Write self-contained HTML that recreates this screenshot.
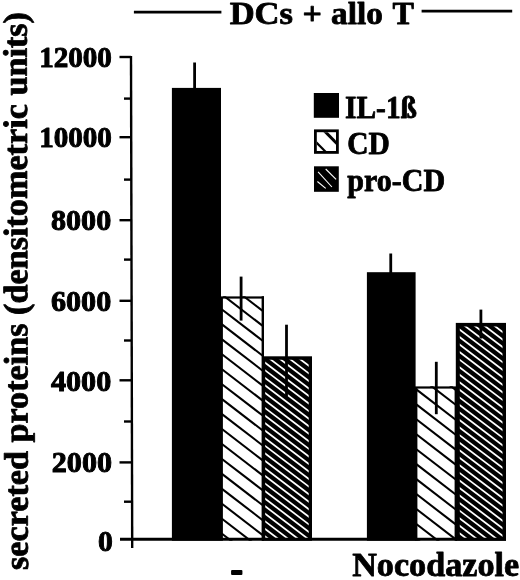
<!DOCTYPE html>
<html><head><meta charset="utf-8"><title>DCs + allo T</title>
<style>
html,body{margin:0;padding:0;background:#fff;}
svg{display:block}
text{font-family:"Liberation Serif",serif;font-weight:bold;fill:#000;stroke:#000;stroke-width:0.8px;stroke-linejoin:round}
</style></head><body>
<svg width="520" height="580" viewBox="0 0 520 580">
<rect width="520" height="580" fill="#fff"/>

<g stroke="#000" stroke-width="2.7">
<line x1="133.9" y1="12.1" x2="221.4" y2="12.1"/>
<line x1="421.6" y1="11.2" x2="512.2" y2="11.2"/>
</g>
<text y="23.8" font-size="32" xml:space="preserve"><tspan x="229.7" textLength="63.3" lengthAdjust="spacingAndGlyphs">DCs</tspan> <tspan x="302.5" textLength="19.4" lengthAdjust="spacingAndGlyphs">+</tspan> <tspan x="331" textLength="51.8" lengthAdjust="spacingAndGlyphs">allo</tspan> <tspan x="392.4" textLength="21.4" lengthAdjust="spacingAndGlyphs">T</tspan></text>
<g stroke="#000" stroke-width="2.4">
<line x1="131" y1="56" x2="132.2" y2="548"/>
<line x1="119.5" y1="57" x2="131" y2="57"/>
<line x1="119.5" y1="137.2" x2="131" y2="137.2"/>
<line x1="119.5" y1="220.2" x2="131" y2="220.2"/>
<line x1="119.5" y1="300.8" x2="131" y2="300.8"/>
<line x1="119.5" y1="380.3" x2="131" y2="380.3"/>
<line x1="119.5" y1="462.4" x2="131" y2="462.4"/>
<line x1="124" y1="98.6" x2="131" y2="98.6"/>
<line x1="124" y1="179.6" x2="131" y2="179.6"/>
<line x1="124" y1="259.6" x2="131" y2="259.6"/>
<line x1="124" y1="340.5" x2="131" y2="340.5"/>
<line x1="124" y1="421.5" x2="131" y2="421.5"/>
<line x1="124" y1="501.7" x2="131" y2="501.7"/>
</g>
<g style="stroke-width:1px">
<text x="39.2" y="66.6" font-size="30" style="stroke-width:1px" textLength="72.7" lengthAdjust="spacingAndGlyphs">12000</text>
<text x="39.2" y="146.8" font-size="30" style="stroke-width:1px" textLength="72.7" lengthAdjust="spacingAndGlyphs">10000</text>
<text x="51.0" y="229.8" font-size="30" style="stroke-width:1px" textLength="60.2" lengthAdjust="spacingAndGlyphs">8000</text>
<text x="51.0" y="310.9" font-size="30" style="stroke-width:1px" textLength="60.2" lengthAdjust="spacingAndGlyphs">6000</text>
<text x="51.0" y="391.1" font-size="30" style="stroke-width:1px" textLength="60.2" lengthAdjust="spacingAndGlyphs">4000</text>
<text x="51.8" y="471.8" font-size="30" style="stroke-width:1px" textLength="60.2" lengthAdjust="spacingAndGlyphs">2000</text>
<text x="97.9" y="550.6" font-size="30" style="stroke-width:1px" textLength="14.8" lengthAdjust="spacingAndGlyphs">0</text>
</g>
<rect x="171.9" y="87.9" width="49.099999999999994" height="452.80000000000007" fill="#000"/>
<clipPath id="h1"><rect x="220.5" y="296.2" width="43.5" height="244.50000000000006"/></clipPath>
<rect x="221.5" y="297.2" width="41.5" height="243.50000000000006" fill="#fff"/>
<g clip-path="url(#h1)" stroke="#000" stroke-width="2.06">
<line x1="215.5" y1="244.66" x2="269.0" y2="285.86"/>
<line x1="215.5" y1="259.61" x2="269.0" y2="300.81"/>
<line x1="215.5" y1="274.56" x2="269.0" y2="315.76"/>
<line x1="215.5" y1="289.51" x2="269.0" y2="330.71"/>
<line x1="215.5" y1="304.46" x2="269.0" y2="345.66"/>
<line x1="215.5" y1="319.41" x2="269.0" y2="360.61"/>
<line x1="215.5" y1="334.36" x2="269.0" y2="375.56"/>
<line x1="215.5" y1="349.31" x2="269.0" y2="390.51"/>
<line x1="215.5" y1="364.26" x2="269.0" y2="405.46"/>
<line x1="215.5" y1="379.21" x2="269.0" y2="420.41"/>
<line x1="215.5" y1="394.16" x2="269.0" y2="435.36"/>
<line x1="215.5" y1="409.11" x2="269.0" y2="450.31"/>
<line x1="215.5" y1="424.06" x2="269.0" y2="465.26"/>
<line x1="215.5" y1="439.01" x2="269.0" y2="480.21"/>
<line x1="215.5" y1="453.96" x2="269.0" y2="495.16"/>
<line x1="215.5" y1="468.91" x2="269.0" y2="510.11"/>
<line x1="215.5" y1="483.86" x2="269.0" y2="525.06"/>
<line x1="215.5" y1="498.81" x2="269.0" y2="540.01"/>
<line x1="215.5" y1="513.76" x2="269.0" y2="554.96"/>
<line x1="215.5" y1="528.71" x2="269.0" y2="569.91"/>
<line x1="215.5" y1="543.66" x2="269.0" y2="584.86"/>
<line x1="215.5" y1="558.61" x2="269.0" y2="599.81"/>
<line x1="215.5" y1="573.56" x2="269.0" y2="614.76"/>
<line x1="215.5" y1="588.51" x2="269.0" y2="629.71"/>
</g>
<rect x="221.7" y="297.4" width="41.1" height="247.50000000000006" fill="none" stroke="#000" stroke-width="2.4" clip-path="url(#h1)"/>
<clipPath id="h2"><rect x="265.2" y="359.7" width="43.5" height="180.00000000000003"/></clipPath>
<rect x="262" y="356.3" width="50" height="184.40000000000003" fill="#000"/>
<g clip-path="url(#h2)" stroke="#fff" stroke-width="1.75">
<line x1="257.0" y1="288.67" x2="317.0" y2="334.27"/>
<line x1="257.0" y1="296.22" x2="317.0" y2="341.82"/>
<line x1="257.0" y1="303.77" x2="317.0" y2="349.37"/>
<line x1="257.0" y1="311.32" x2="317.0" y2="356.92"/>
<line x1="257.0" y1="318.87" x2="317.0" y2="364.47"/>
<line x1="257.0" y1="326.42" x2="317.0" y2="372.02"/>
<line x1="257.0" y1="333.97" x2="317.0" y2="379.57"/>
<line x1="257.0" y1="341.52" x2="317.0" y2="387.12"/>
<line x1="257.0" y1="349.07" x2="317.0" y2="394.67"/>
<line x1="257.0" y1="356.62" x2="317.0" y2="402.22"/>
<line x1="257.0" y1="364.17" x2="317.0" y2="409.77"/>
<line x1="257.0" y1="371.72" x2="317.0" y2="417.32"/>
<line x1="257.0" y1="379.27" x2="317.0" y2="424.87"/>
<line x1="257.0" y1="386.82" x2="317.0" y2="432.42"/>
<line x1="257.0" y1="394.37" x2="317.0" y2="439.97"/>
<line x1="257.0" y1="401.92" x2="317.0" y2="447.52"/>
<line x1="257.0" y1="409.47" x2="317.0" y2="455.07"/>
<line x1="257.0" y1="417.02" x2="317.0" y2="462.62"/>
<line x1="257.0" y1="424.57" x2="317.0" y2="470.17"/>
<line x1="257.0" y1="432.12" x2="317.0" y2="477.72"/>
<line x1="257.0" y1="439.67" x2="317.0" y2="485.27"/>
<line x1="257.0" y1="447.22" x2="317.0" y2="492.82"/>
<line x1="257.0" y1="454.77" x2="317.0" y2="500.37"/>
<line x1="257.0" y1="462.32" x2="317.0" y2="507.92"/>
<line x1="257.0" y1="469.87" x2="317.0" y2="515.47"/>
<line x1="257.0" y1="477.42" x2="317.0" y2="523.02"/>
<line x1="257.0" y1="484.97" x2="317.0" y2="530.57"/>
<line x1="257.0" y1="492.52" x2="317.0" y2="538.12"/>
<line x1="257.0" y1="500.07" x2="317.0" y2="545.67"/>
<line x1="257.0" y1="507.62" x2="317.0" y2="553.22"/>
<line x1="257.0" y1="515.17" x2="317.0" y2="560.77"/>
<line x1="257.0" y1="522.72" x2="317.0" y2="568.32"/>
<line x1="257.0" y1="530.27" x2="317.0" y2="575.87"/>
<line x1="257.0" y1="537.82" x2="317.0" y2="583.42"/>
<line x1="257.0" y1="545.37" x2="317.0" y2="590.97"/>
<line x1="257.0" y1="552.92" x2="317.0" y2="598.52"/>
<line x1="257.0" y1="560.47" x2="317.0" y2="606.07"/>
<line x1="257.0" y1="568.02" x2="317.0" y2="613.62"/>
<line x1="257.0" y1="575.57" x2="317.0" y2="621.17"/>
<line x1="257.0" y1="583.12" x2="317.0" y2="628.72"/>
<line x1="257.0" y1="590.67" x2="317.0" y2="636.27"/>
</g>
<rect x="366.9" y="272.2" width="48.700000000000045" height="268.50000000000006" fill="#000"/>
<clipPath id="h3"><rect x="415" y="386.2" width="42" height="154.50000000000006"/></clipPath>
<rect x="416" y="387.2" width="40" height="153.50000000000006" fill="#fff"/>
<g clip-path="url(#h3)" stroke="#000" stroke-width="2.06">
<line x1="410.0" y1="339.72" x2="462.0" y2="379.76"/>
<line x1="410.0" y1="354.67" x2="462.0" y2="394.71"/>
<line x1="410.0" y1="369.62" x2="462.0" y2="409.66"/>
<line x1="410.0" y1="384.56" x2="462.0" y2="424.61"/>
<line x1="410.0" y1="399.51" x2="462.0" y2="439.56"/>
<line x1="410.0" y1="414.46" x2="462.0" y2="454.50"/>
<line x1="410.0" y1="429.41" x2="462.0" y2="469.45"/>
<line x1="410.0" y1="444.36" x2="462.0" y2="484.40"/>
<line x1="410.0" y1="459.31" x2="462.0" y2="499.35"/>
<line x1="410.0" y1="474.26" x2="462.0" y2="514.30"/>
<line x1="410.0" y1="489.21" x2="462.0" y2="529.25"/>
<line x1="410.0" y1="504.16" x2="462.0" y2="544.20"/>
<line x1="410.0" y1="519.11" x2="462.0" y2="559.15"/>
<line x1="410.0" y1="534.06" x2="462.0" y2="574.10"/>
<line x1="410.0" y1="549.01" x2="462.0" y2="589.05"/>
<line x1="410.0" y1="563.97" x2="462.0" y2="604.00"/>
<line x1="410.0" y1="578.92" x2="462.0" y2="618.96"/>
<line x1="410.0" y1="593.87" x2="462.0" y2="633.91"/>
</g>
<rect x="416.2" y="387.4" width="39.6" height="157.50000000000006" fill="none" stroke="#000" stroke-width="2.4" clip-path="url(#h3)"/>
<clipPath id="h4"><rect x="459.8" y="326.4" width="42.69999999999999" height="213.30000000000007"/></clipPath>
<rect x="455.8" y="322.9" width="50.19999999999999" height="217.80000000000007" fill="#000"/>
<g clip-path="url(#h4)" stroke="#fff" stroke-width="1.75">
<line x1="450.8" y1="254.86" x2="511.0" y2="300.61"/>
<line x1="450.8" y1="262.41" x2="511.0" y2="308.16"/>
<line x1="450.8" y1="269.96" x2="511.0" y2="315.71"/>
<line x1="450.8" y1="277.51" x2="511.0" y2="323.26"/>
<line x1="450.8" y1="285.06" x2="511.0" y2="330.81"/>
<line x1="450.8" y1="292.61" x2="511.0" y2="338.36"/>
<line x1="450.8" y1="300.16" x2="511.0" y2="345.91"/>
<line x1="450.8" y1="307.71" x2="511.0" y2="353.46"/>
<line x1="450.8" y1="315.26" x2="511.0" y2="361.01"/>
<line x1="450.8" y1="322.81" x2="511.0" y2="368.56"/>
<line x1="450.8" y1="330.36" x2="511.0" y2="376.11"/>
<line x1="450.8" y1="337.91" x2="511.0" y2="383.66"/>
<line x1="450.8" y1="345.46" x2="511.0" y2="391.21"/>
<line x1="450.8" y1="353.01" x2="511.0" y2="398.76"/>
<line x1="450.8" y1="360.56" x2="511.0" y2="406.31"/>
<line x1="450.8" y1="368.11" x2="511.0" y2="413.86"/>
<line x1="450.8" y1="375.66" x2="511.0" y2="421.41"/>
<line x1="450.8" y1="383.21" x2="511.0" y2="428.96"/>
<line x1="450.8" y1="390.76" x2="511.0" y2="436.51"/>
<line x1="450.8" y1="398.31" x2="511.0" y2="444.06"/>
<line x1="450.8" y1="405.86" x2="511.0" y2="451.61"/>
<line x1="450.8" y1="413.41" x2="511.0" y2="459.16"/>
<line x1="450.8" y1="420.96" x2="511.0" y2="466.71"/>
<line x1="450.8" y1="428.51" x2="511.0" y2="474.26"/>
<line x1="450.8" y1="436.06" x2="511.0" y2="481.81"/>
<line x1="450.8" y1="443.61" x2="511.0" y2="489.36"/>
<line x1="450.8" y1="451.16" x2="511.0" y2="496.91"/>
<line x1="450.8" y1="458.71" x2="511.0" y2="504.46"/>
<line x1="450.8" y1="466.26" x2="511.0" y2="512.01"/>
<line x1="450.8" y1="473.81" x2="511.0" y2="519.56"/>
<line x1="450.8" y1="481.36" x2="511.0" y2="527.11"/>
<line x1="450.8" y1="488.91" x2="511.0" y2="534.66"/>
<line x1="450.8" y1="496.46" x2="511.0" y2="542.21"/>
<line x1="450.8" y1="504.01" x2="511.0" y2="549.76"/>
<line x1="450.8" y1="511.56" x2="511.0" y2="557.31"/>
<line x1="450.8" y1="519.11" x2="511.0" y2="564.86"/>
<line x1="450.8" y1="526.66" x2="511.0" y2="572.41"/>
<line x1="450.8" y1="534.21" x2="511.0" y2="579.96"/>
<line x1="450.8" y1="541.76" x2="511.0" y2="587.51"/>
<line x1="450.8" y1="549.31" x2="511.0" y2="595.06"/>
<line x1="450.8" y1="556.86" x2="511.0" y2="602.61"/>
<line x1="450.8" y1="564.41" x2="511.0" y2="610.16"/>
<line x1="450.8" y1="571.96" x2="511.0" y2="617.71"/>
<line x1="450.8" y1="579.51" x2="511.0" y2="625.26"/>
<line x1="450.8" y1="587.06" x2="511.0" y2="632.81"/>
</g>
<line x1="120" y1="539.2" x2="506" y2="539.2" stroke="#000" stroke-width="3"/>
<g stroke="#000" stroke-width="2.8">
<line x1="194.6" y1="62.5" x2="194.6" y2="90"/>
<line x1="241.1" y1="276.6" x2="241.1" y2="320.6"/>
<line x1="286.5" y1="324.7" x2="286.5" y2="396.7"/>
<line x1="390.75" y1="253.5" x2="390.75" y2="274"/>
<line x1="436.3" y1="361.8" x2="436.3" y2="414.2"/>
<line x1="480.9" y1="309.6" x2="480.9" y2="338.5"/>
</g>
<rect x="313.8" y="93" width="25.2" height="24.8" fill="#000"/>
<rect x="314" y="129.4" width="24.8" height="24.4" fill="#000"/>
<rect x="316.8" y="132.2" width="19.2" height="18.8" fill="#fff"/>
<clipPath id="lg2"><rect x="316.8" y="132.2" width="19.2" height="18.8"/></clipPath>
<g clip-path="url(#lg2)" stroke="#000"><line x1="323.7" y1="130.2" x2="338.1" y2="144.8" stroke-width="3"/><line x1="314.7" y1="140.8" x2="325.6" y2="151.7" stroke-width="2.2"/></g>
<rect x="314" y="166.3" width="24.8" height="25.5" fill="#000"/>
<g stroke="#fff" stroke-width="1.1"><line x1="325.7" y1="169" x2="336.1" y2="179.4"/><line x1="318.1" y1="171.8" x2="331.9" y2="187"/><line x1="317.4" y1="181.5" x2="325.7" y2="188.4"/></g>
<text x="345" y="117.8" font-size="30.5" textLength="72" lengthAdjust="spacingAndGlyphs">IL-1ß</text>
<text x="347.3" y="154.3" font-size="30.5" textLength="42.5" lengthAdjust="spacingAndGlyphs">CD</text>
<text x="347.3" y="190.6" font-size="30.5" textLength="97.8" lengthAdjust="spacingAndGlyphs">pro-CD</text>
<text x="230.8" y="581.3" font-size="36" style="stroke-width:2px">-</text>
<text x="352.2" y="576.2" font-size="33.6" textLength="167" lengthAdjust="spacingAndGlyphs">Nocodazole</text>
<text transform="translate(27.9,570) rotate(-90.13)" font-size="34" textLength="558" lengthAdjust="spacingAndGlyphs">secreted proteins (densitometric units)</text>
</svg></body></html>
